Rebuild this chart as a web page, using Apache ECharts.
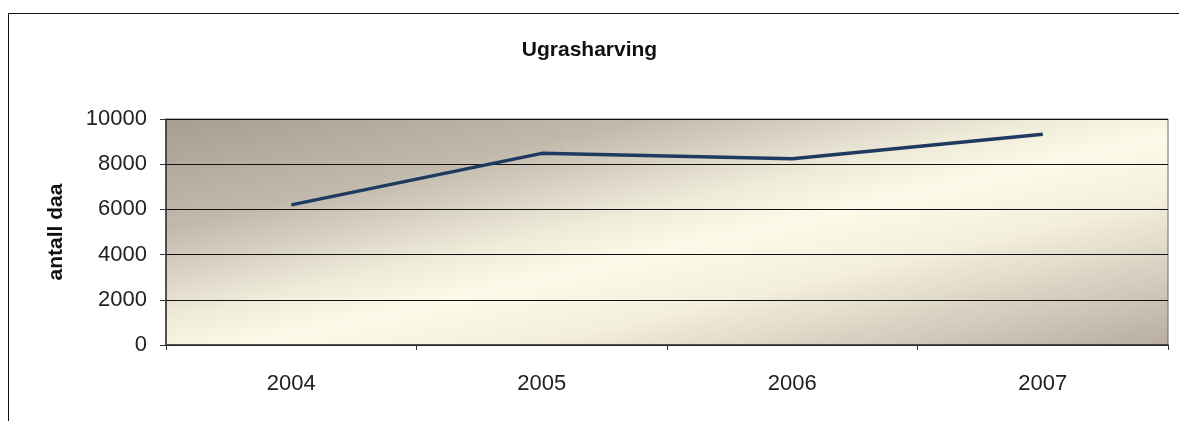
<!DOCTYPE html>
<html>
<head>
<meta charset="utf-8">
<script src="https://cdn.jsdelivr.net/npm/echarts@6/dist/echarts.min.js"></script>
<style>
  html, body { margin: 0; padding: 0; background: #fff; }
  #chart { width: 1179px; height: 421px; }
</style>
</head>
<body>
<div id="chart"></div>
<script>
"use strict"

const years = ["2004", "2005", "2006", "2007"]
const areaValues = [6200, 8480, 8240, 9330]
const yTicks = { min: 0, max: 10000, interval: 2000 }

const chart = echarts.init(document.getElementById("chart"), null, { renderer: "canvas" })

const font = "Arial, 'Liberation Sans', sans-serif"

// plot background: brownish at top-left and bottom-right, cream along the other diagonal
const plotBg = {
  type: "linear", global: true,
  x: 618, y: 17, x2: 716, y2: 447,
  colorStops: [
    { offset: 0, color: "#a89d91" },
    { offset: 0.24, color: "#c2b9ad" },
    { offset: 0.44, color: "#efebd9" },
    { offset: 0.54, color: "#fcfae8" },
    { offset: 0.68, color: "#f3efdc" },
    { offset: 0.86, color: "#d2cabb" },
    { offset: 1, color: "#b9ae9f" },
  ],
}

chart.setOption({
  animation: false,
  backgroundColor: "#ffffff",
  graphic: [{
    type: "rect",
    shape: { x: 8.5, y: 13.5, width: 1300, height: 500 },
    style: { fill: "none", stroke: "#111", lineWidth: 1 },
    silent: true,
  }],
  title: {
    text: "Ugrasharving",
    left: "center",
    top: 35,
    textStyle: { fontFamily: font, fontSize: 21, fontWeight: "bold", color: "#111" },
  },
  grid: {
    left: 166, right: 11, top: 119, bottom: 76,
    show: true,
    borderColor: "#6e6a64",
    borderWidth: 1,
    backgroundColor: plotBg,
  },
  xAxis: {
    type: "category",
    data: years,
    boundaryGap: true,
    axisLine: { show: true, lineStyle: { color: "#333", width: 1.5 } },
    axisTick: { show: true, length: 5, lineStyle: { color: "#333" } },
    axisLabel: { margin: 28, fontFamily: font, fontSize: 22, color: "#222" },
  },
  yAxis: {
    type: "value",
    min: yTicks.min,
    max: yTicks.max,
    interval: yTicks.interval,
    name: "antall daa",
    nameLocation: "middle",
    nameGap: 99,
    nameTextStyle: { fontFamily: font, fontSize: 21, fontWeight: "bold", color: "#111" },
    axisLine: { show: true, lineStyle: { color: "#333", width: 1.5 } },
    axisTick: { show: true, length: 6, lineStyle: { color: "#333" } },
    axisLabel: {
      margin: 19, fontFamily: font, fontSize: 22, color: "#222",
      formatter: (v) => String(v),
    },
    splitLine: { show: true, lineStyle: { color: "#111", width: 1 } },
  },
  series: [{
    type: "line",
    data: areaValues,
    symbol: "none",
    lineStyle: { color: "#1f3a60", width: 3.5 },
  }],
})
</script>
</body>
</html>
